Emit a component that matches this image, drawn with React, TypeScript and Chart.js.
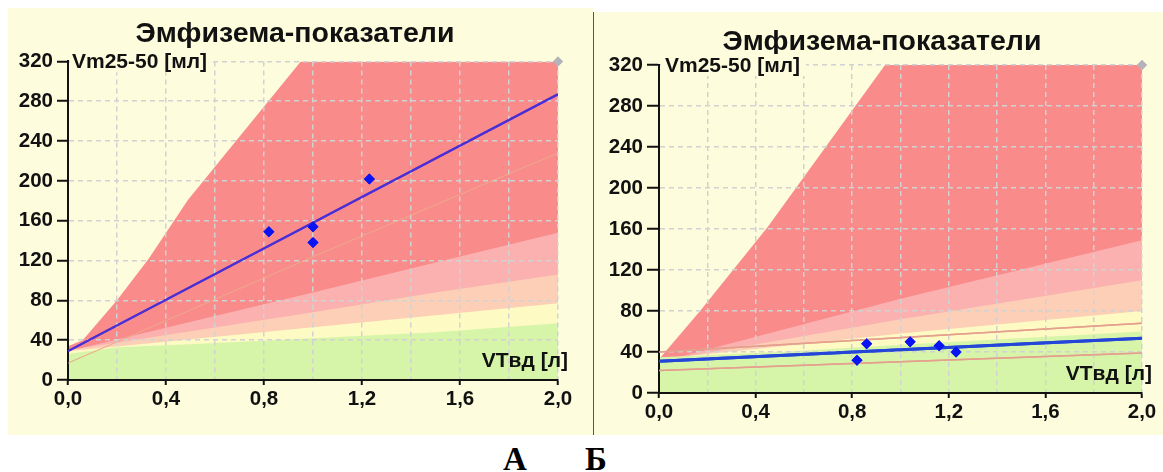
import React, { useEffect, useRef } from 'react';
import { Chart, registerables } from 'chart.js';

Chart.register(...registerables);

// ---- axes ----
const xGridValues = [0, 0.2, 0.4, 0.6, 0.8, 1.0, 1.2, 1.4, 1.6, 1.8, 2.0];
const xTickLabels = ['0,0', '', '0,4', '', '0,8', '', '1,2', '', '1,6', '', '2,0'];
const yTickValues = [0, 40, 80, 120, 160, 200, 240, 280, 320];
const yTickLabels = ['0', '40', '80', '120', '160', '200', '240', '280', '320'];

const titleText = 'Эмфизема-показатели';
const yAxisTitle = 'Vm25-50 [мл]';
const xAxisTitle = 'VTвд [л]';
const panelLetters = ['А', 'Б'];

// ---- zone boundaries, panel А: [VTвд, Vm25-50] ----
const redUpperA = [[0, 34], [0.06, 40], [0.2, 80], [0.33, 122], [0.49, 181], [0.95, 320], [2.0, 320]];
const redLowerA = [[0, 29], [1.0, 88], [1.5, 118], [2.0, 148]];
const pinkLowerA = [[0, 30], [1.0, 68], [1.5, 88], [2.0, 106]];
const peachLowerA = [[0, 29], [1.0, 53], [1.5, 65], [2.0, 77]];
const greenUpperA = [[0, 26], [0.2, 33], [0.5, 36], [1.0, 42], [1.5, 48], [2.0, 57]];

// ---- zone boundaries, panel Б ----
const redUpperB = [[0, 33], [0.17, 80], [0.45, 162], [0.936, 320], [2.0, 320]];
const redLowerB = [[0, 30], [1.0, 92], [2.0, 149]];
const pinkLowerB = [[0, 31], [1.0, 72], [2.0, 110]];
const peachLowerB = [[0, 33], [1.0, 58], [2.0, 80]];
const greenUpperB = [[0, 35], [0.5, 40], [1.0, 47], [2.0, 60]];

// ---- measurements & regression ----
const pointsA = [[0.82, 149], [1.0, 154], [1.0, 138], [1.23, 202]];
const regressionA = [[0, 29], [2.0, 287]];
const bandLowA = [[0, 17], [1.04, 128], [2.0, 228]];

const pointsB = [[0.82, 32], [0.86, 48], [1.04, 50], [1.16, 46], [1.23, 40]];
const regressionB = [[0, 31], [2.0, 53.5]];
const bandLowB = [[0, 22], [2.0, 39]];
const bandHighB = [[0, 40], [2.0, 68]];

const cornerMark = [[2.0, 320]];

// ---- styles ----
const CREAM = '#fdfcdc';
const RED = '#f98b8b';
const PINK = '#fbb1b0';
const PEACH = '#fccfb6';
const YELLOW = '#fdfac3';
const GREEN = '#d6f5a9';
const GRID = '#d2d2d2';
const INK = '#111111';
const FONT = '"Liberation Sans", Arial, sans-serif';

const xy = (arr: number[][]) => arr.map(([x, y]) => ({ x, y }));

type Panel = {
  left: number; top: number; width: number; height: number;
  yAxisWidth: number; padRight: number; rightAxis: number; titleTop: number; titleBottom: number;
  xAxisHeight: number; yTickLength: number; yTitleDx: number;
  redUpper: number[][]; redLower: number[][]; pinkLower: number[][]; peachLower: number[][]; greenUpper: number[][];
  points: number[][]; regression: number[][]; regColor: string; regWidth: number;
  bands: number[][][]; bandColor: string; bandWidth: number;
};

const panels: Panel[] = [
  {
    left: 8, top: 8, width: 585, height: 427,
    yAxisWidth: 60, padRight: 11, rightAxis: 24, titleTop: 8.9, titleBottom: 10.3, xAxisHeight: 55, yTickLength: 11, yTitleDx: 4,
    redUpper: redUpperA, redLower: redLowerA, pinkLower: pinkLowerA, peachLower: peachLowerA, greenUpper: greenUpperA,
    points: pointsA, regression: regressionA, regColor: '#4a2fd6', regWidth: 2,
    bands: [bandLowA], bandColor: 'rgba(236,170,140,0.7)', bandWidth: 1,
  },
  {
    left: 594, top: 12, width: 576, height: 423,
    yAxisWidth: 65, padRight: 0, rightAxis: 28, titleTop: 13.4, titleBottom: 5.4, xAxisHeight: 42, yTickLength: 12, yTitleDx: 6,
    redUpper: redUpperB, redLower: redLowerB, pinkLower: pinkLowerB, peachLower: peachLowerB, greenUpper: greenUpperB,
    points: pointsB, regression: regressionB, regColor: '#2446d8', regWidth: 3,
    bands: [bandLowB, bandHighB], bandColor: '#e4a08e', bandWidth: 1.5,
  },
];

const zone = (data: number[][], color: string, order: number) => ({
  data: xy(data), fill: 'origin', backgroundColor: color, borderColor: color,
  borderWidth: 0, pointRadius: 0, tension: 0, order,
});

function buildConfig(p: Panel): any {
  const datasets: any[] = [
    zone(p.redUpper, RED, 20),
    zone(p.redLower, PINK, 19),
    zone(p.pinkLower, PEACH, 18),
    zone(p.peachLower, YELLOW, 17),
    zone(p.greenUpper, GREEN, 16),
    ...p.bands.map((b, i) => ({
      data: xy(b), fill: false, borderColor: p.bandColor, borderWidth: p.bandWidth,
      pointRadius: 0, tension: 0, order: 10 + i, overlay: true,
    })),
    {
      data: xy(p.regression), fill: false, borderColor: p.regColor, borderWidth: p.regWidth,
      pointRadius: 0, tension: 0, order: 3, overlay: true,
    },
    {
      data: xy(p.points), showLine: false, pointStyle: 'rectRot', pointRadius: 5.5,
      pointBackgroundColor: '#0a14f2', pointBorderColor: '#0a14f2', pointBorderWidth: 0, order: 2, overlay: true,
    },
    {
      data: xy(cornerMark), showLine: false, pointStyle: 'rectRot', pointRadius: 5,
      pointBackgroundColor: '#b3b3bb', pointBorderColor: '#b3b3bb', pointBorderWidth: 0, order: 1,
      clip: false, overlay: true, noClip: true,
    },
  ];

  const tickFont = { family: FONT, size: 20.5, weight: 'bold' as const };

  const decor = {
    id: 'decor',
    beforeDraw(chart: any) {
      const c = chart.ctx;
      c.save();
      c.fillStyle = CREAM;
      c.fillRect(0, 0, chart.width, chart.height);
      c.restore();
    },
    afterDraw(chart: any) {
      const c = chart.ctx;
      const a = chart.chartArea;
      chart.data.datasets.forEach((d: any, i: number) => {
        if (!d.overlay) return;
        const meta = chart.getDatasetMeta(i);
        c.save();
        if (!d.noClip) {
          c.beginPath();
          c.rect(a.left, a.top, a.right - a.left, a.bottom - a.top);
          c.clip();
        }
        meta.controller.draw();
        c.restore();
      });
      c.save();
      c.font = `bold 21px ${FONT}`;
      c.textBaseline = 'middle';
      // y axis title
      const w = c.measureText(yAxisTitle).width;
      c.fillStyle = CREAM;
      c.fillRect(a.left + 2, a.top - 11, w + p.yTitleDx + 4, 22);
      c.fillStyle = INK;
      c.textAlign = 'left';
      c.fillText(yAxisTitle, a.left + p.yTitleDx, a.top + 1);
      // x axis title
      c.textAlign = 'right';
      c.fillText(xAxisTitle, a.right + 10, a.bottom - 19);
      c.restore();
    },
  };

  return {
    type: 'line',
    data: { datasets },
    plugins: [decor],
    options: {
      animation: false,
      responsive: false,
      devicePixelRatio: 1,
      events: [],
      layout: { padding: { left: 0, right: p.padRight, top: 0, bottom: 0 } },
      plugins: {
        legend: { display: false },
        tooltip: { enabled: false },
        title: {
          display: true, text: titleText, color: INK,
          font: { family: FONT, size: 28.5, weight: 'bold', lineHeight: 1.2 },
          padding: { top: p.titleTop, bottom: p.titleBottom },
        },
      },
      scales: {
        x: {
          type: 'linear', min: 0, max: 2,
          afterBuildTicks: (s: any) => { s.ticks = xGridValues.map((v) => ({ value: v })); },
          afterFit: (s: any) => { s.height = p.xAxisHeight; },
          ticks: {
            autoSkip: false, maxRotation: 0, minRotation: 0, padding: 2, color: INK, font: tickFont,
            callback: (_v: any, i: number) => xTickLabels[i],
          },
          grid: {
            color: GRID, lineWidth: 1.5, z: 1, tickLength: 5, tickWidth: 2, tickBorderDash: [],
            tickColor: (ctx: any) => (xTickLabels[ctx.index] ? INK : 'rgba(0,0,0,0)'),
          },
          border: { display: true, color: INK, width: 2, dash: [5, 4], z: 2 },
        },
        y: {
          type: 'linear', min: 0, max: 320,
          afterBuildTicks: (s: any) => { s.ticks = yTickValues.map((v) => ({ value: v })); },
          afterFit: (s: any) => { s.width = p.yAxisWidth; },
          ticks: {
            autoSkip: false, padding: 4, color: INK, font: tickFont,
            callback: (_v: any, i: number) => yTickLabels[i],
          },
          grid: {
            color: GRID, lineWidth: 1.5, z: 1, tickLength: p.yTickLength, tickWidth: 2,
            tickBorderDash: [], tickColor: INK,
          },
          border: { display: true, color: INK, width: 2, dash: [5, 4], z: 2 },
        },
        yRightSpace: {
          type: 'linear', position: 'right', min: 0, max: 1, display: true,
          afterFit: (s: any) => { s.width = p.rightAxis; },
          ticks: { display: false },
          grid: { display: false, drawTicks: false },
          border: { display: false },
          title: { display: false },
        },
      },
    },
  };
}

function PanelChart({ p }: { p: Panel }) {
  const ref = useRef<HTMLCanvasElement | null>(null);
  useEffect(() => {
    if (!ref.current) return;
    const chart = new Chart(ref.current, buildConfig(p));
    return () => chart.destroy();
  }, [p]);
  return (
    <canvas
      ref={ref}
      width={p.width}
      height={p.height}
      style={{ position: 'absolute', left: p.left, top: p.top, width: p.width, height: p.height }}
    />
  );
}

export default function App() {
  const letterStyle: React.CSSProperties = {
    position: 'absolute', top: 443, width: 40, textAlign: 'center',
    font: 'bold 33px "Liberation Serif", "Times New Roman", serif', lineHeight: '33px', color: '#000',
  };
  return (
    <div style={{ position: 'absolute', left: 0, top: 0, width: 1163, height: 472, background: '#fff', overflow: 'hidden' }}>
      <PanelChart p={panels[0]} />
      <div style={{ position: 'absolute', left: 593, top: 12, width: 1, height: 423, background: '#555', zIndex: 2 }} />
      <PanelChart p={panels[1]} />
      <div style={{ ...letterStyle, left: 495 }}>{panelLetters[0]}</div>
      <div style={{ ...letterStyle, left: 576 }}>{panelLetters[1]}</div>
    </div>
  );
}
